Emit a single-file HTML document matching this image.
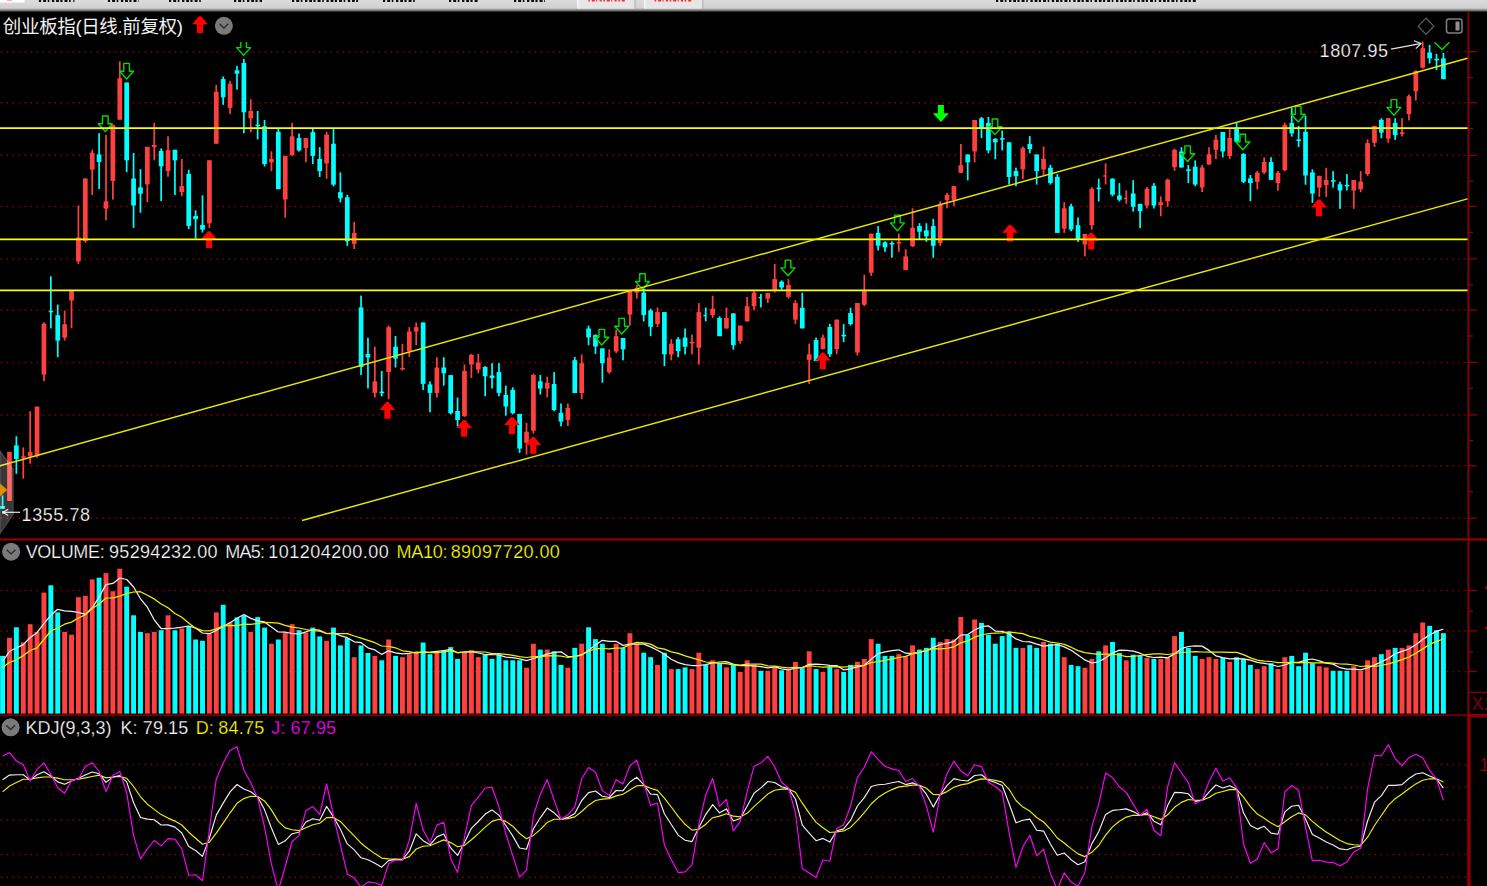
<!DOCTYPE html>
<html><head><meta charset="utf-8"><title>chart</title><style>html,body{margin:0;padding:0;background:#000;overflow:hidden}body{width:1487px;height:886px}</style></head><body>
<svg width="1487" height="886" viewBox="0 0 1487 886" style="display:block;font-family:'Liberation Sans',sans-serif">
<defs><linearGradient id="tb0" x1="0" y1="0" x2="0" y2="1"><stop offset="0" stop-color="#dcdcdc"/><stop offset="1" stop-color="#d0d0d0"/></linearGradient><linearGradient id="tb" x1="0" y1="0" x2="0" y2="1"><stop offset="0" stop-color="#d0d0d0"/><stop offset="0.45" stop-color="#8c8c8c"/><stop offset="1" stop-color="#000"/></linearGradient></defs>
<rect width="1487" height="886" fill="#000"/>
<g stroke="#8a0000" stroke-width="1.5" stroke-dasharray="1.5 4.5" fill="none">
<path d="M0.6 51.7H1466.4"/>
<path d="M0.6 102.8H1466.4"/>
<path d="M0.6 155.3H1466.4"/>
<path d="M0.6 206.4H1466.4"/>
<path d="M0.6 258.9H1466.4"/>
<path d="M0.6 310.1H1466.4"/>
<path d="M0.6 362.4H1466.4"/>
<path d="M0.6 414.9H1466.4"/>
<path d="M0.6 465.8H1466.4"/>
<path d="M0.6 518.2H1466.4"/>
<path d="M0.6 590.5H1466.4"/>
<path d="M0.6 630.9H1466.4"/>
<path d="M0.6 671.5H1466.4"/>
<path d="M0.6 764.5H1466.4"/>
<path d="M0.6 787.4H1466.4"/>
<path d="M0.6 820.2H1466.4"/>
<path d="M0.6 854.5H1466.4"/>
<path d="M0.6 877.2H1466.4"/>
</g>
<g>
<rect x="1.73" y="495.3" width="1.7" height="13.5" fill="#00ffff"/><rect x="0.23" y="506.0" width="4.7" height="2.8" fill="#00ffff"/>
<rect x="8.62" y="451.9" width="1.7" height="49.0" fill="#ff4040"/><rect x="7.12" y="451.9" width="4.7" height="49.0" fill="#ff4040"/>
<rect x="15.52" y="436.3" width="1.7" height="37.5" fill="#00ffff"/><rect x="14.02" y="445.4" width="4.7" height="13.6" fill="#00ffff"/>
<rect x="22.41" y="447.4" width="1.7" height="31.2" fill="#ff4040"/><rect x="21.11" y="456.2" width="4.6" height="1.6" fill="#ff4040"/>
<rect x="29.31" y="411.2" width="1.7" height="52.5" fill="#ff4040"/><rect x="27.81" y="451.9" width="4.7" height="4.6" fill="#ff4040"/>
<rect x="36.20" y="406.6" width="1.7" height="51.0" fill="#ff4040"/><rect x="34.70" y="406.6" width="4.7" height="49.6" fill="#ff4040"/>
<rect x="43.09" y="322.3" width="1.7" height="58.9" fill="#ff4040"/><rect x="41.59" y="323.7" width="4.7" height="50.8" fill="#ff4040"/>
<rect x="49.99" y="276.3" width="1.7" height="52.1" fill="#00ffff"/><rect x="48.69" y="310.7" width="4.6" height="1.6" fill="#00ffff"/>
<rect x="56.88" y="304.6" width="1.7" height="52.6" fill="#00ffff"/><rect x="55.38" y="315.2" width="4.7" height="25.4" fill="#00ffff"/>
<rect x="63.78" y="310.5" width="1.7" height="30.1" fill="#ff4040"/><rect x="62.28" y="324.2" width="4.7" height="13.4" fill="#ff4040"/>
<rect x="70.67" y="291.0" width="1.7" height="37.4" fill="#ff4040"/><rect x="69.17" y="291.0" width="4.7" height="9.5" fill="#ff4040"/>
<rect x="77.56" y="205.5" width="1.7" height="58.4" fill="#ff4040"/><rect x="76.06" y="237.4" width="4.7" height="24.0" fill="#ff4040"/>
<rect x="84.46" y="178.5" width="1.7" height="64.3" fill="#ff4040"/><rect x="82.96" y="178.5" width="4.7" height="62.6" fill="#ff4040"/>
<rect x="91.35" y="149.8" width="1.7" height="45.2" fill="#ff4040"/><rect x="89.85" y="152.7" width="4.7" height="16.9" fill="#ff4040"/>
<rect x="98.24" y="133.2" width="1.7" height="55.8" fill="#00ffff"/><rect x="96.74" y="154.4" width="4.7" height="7.6" fill="#00ffff"/>
<rect x="105.14" y="134.9" width="1.7" height="85.5" fill="#ff4040"/><rect x="103.64" y="201.3" width="4.7" height="7.3" fill="#ff4040"/>
<rect x="112.03" y="124.8" width="1.7" height="74.8" fill="#ff4040"/><rect x="110.53" y="124.8" width="4.7" height="56.2" fill="#ff4040"/>
<rect x="118.93" y="61.3" width="1.7" height="58.4" fill="#ff4040"/><rect x="117.43" y="78.2" width="4.7" height="41.5" fill="#ff4040"/>
<rect x="125.82" y="82.5" width="1.7" height="89.7" fill="#00ffff"/><rect x="124.32" y="82.5" width="4.7" height="77.8" fill="#00ffff"/>
<rect x="132.71" y="153.0" width="1.7" height="74.9" fill="#00ffff"/><rect x="131.21" y="178.5" width="4.7" height="27.0" fill="#00ffff"/>
<rect x="139.61" y="169.1" width="1.7" height="43.6" fill="#00ffff"/><rect x="138.11" y="187.4" width="4.7" height="6.3" fill="#00ffff"/>
<rect x="146.50" y="146.8" width="1.7" height="55.4" fill="#ff4040"/><rect x="145.00" y="146.8" width="4.7" height="37.6" fill="#ff4040"/>
<rect x="153.40" y="122.8" width="1.7" height="37.5" fill="#ff4040"/><rect x="151.90" y="145.1" width="4.7" height="2.0" fill="#ff4040"/>
<rect x="160.29" y="148.5" width="1.7" height="52.5" fill="#00ffff"/><rect x="158.79" y="151.0" width="4.7" height="15.3" fill="#00ffff"/>
<rect x="167.18" y="136.3" width="1.7" height="40.5" fill="#ff4040"/><rect x="165.68" y="150.2" width="4.7" height="20.8" fill="#ff4040"/>
<rect x="174.08" y="149.8" width="1.7" height="45.2" fill="#00ffff"/><rect x="172.58" y="149.8" width="4.7" height="10.5" fill="#00ffff"/>
<rect x="180.97" y="159.0" width="1.7" height="37.2" fill="#ff4040"/><rect x="179.47" y="186.1" width="4.7" height="5.9" fill="#ff4040"/>
<rect x="187.87" y="169.6" width="1.7" height="59.6" fill="#00ffff"/><rect x="186.37" y="173.9" width="4.7" height="52.0" fill="#00ffff"/>
<rect x="194.76" y="210.3" width="1.7" height="28.3" fill="#00ffff"/><rect x="193.26" y="216.0" width="4.7" height="3.1" fill="#00ffff"/>
<rect x="201.65" y="195.4" width="1.7" height="37.2" fill="#00ffff"/><rect x="200.15" y="225.0" width="4.7" height="4.6" fill="#00ffff"/>
<rect x="208.55" y="160.3" width="1.7" height="67.6" fill="#ff4040"/><rect x="207.05" y="160.3" width="4.7" height="63.0" fill="#ff4040"/>
<rect x="215.44" y="85.0" width="1.7" height="58.7" fill="#ff4040"/><rect x="213.94" y="91.8" width="4.7" height="51.9" fill="#ff4040"/>
<rect x="222.33" y="76.5" width="1.7" height="28.3" fill="#00ffff"/><rect x="220.83" y="79.1" width="4.7" height="18.3" fill="#00ffff"/>
<rect x="229.23" y="80.8" width="1.7" height="33.3" fill="#ff4040"/><rect x="227.73" y="83.8" width="4.7" height="24.1" fill="#ff4040"/>
<rect x="236.12" y="65.9" width="1.7" height="23.7" fill="#00ffff"/><rect x="234.62" y="70.3" width="4.7" height="3.4" fill="#00ffff"/>
<rect x="243.02" y="58.8" width="1.7" height="74.5" fill="#00ffff"/><rect x="241.52" y="63.0" width="4.7" height="49.3" fill="#00ffff"/>
<rect x="249.91" y="99.2" width="1.7" height="33.0" fill="#ff4040"/><rect x="248.41" y="111.0" width="4.7" height="7.3" fill="#ff4040"/>
<rect x="256.80" y="111.0" width="1.7" height="28.4" fill="#00ffff"/><rect x="255.50" y="124.6" width="4.6" height="1.6" fill="#00ffff"/>
<rect x="263.70" y="120.0" width="1.7" height="46.5" fill="#00ffff"/><rect x="262.20" y="126.2" width="4.7" height="37.8" fill="#00ffff"/>
<rect x="270.59" y="151.3" width="1.7" height="19.8" fill="#ff4040"/><rect x="269.09" y="158.9" width="4.7" height="3.4" fill="#ff4040"/>
<rect x="277.49" y="128.8" width="1.7" height="60.4" fill="#00ffff"/><rect x="275.99" y="131.8" width="4.7" height="57.4" fill="#00ffff"/>
<rect x="284.38" y="155.9" width="1.7" height="61.7" fill="#ff4040"/><rect x="282.88" y="155.9" width="4.7" height="43.6" fill="#ff4040"/>
<rect x="291.27" y="122.9" width="1.7" height="33.0" fill="#ff4040"/><rect x="289.77" y="136.4" width="4.7" height="18.6" fill="#ff4040"/>
<rect x="298.17" y="133.5" width="1.7" height="18.1" fill="#00ffff"/><rect x="296.67" y="138.1" width="4.7" height="12.3" fill="#00ffff"/>
<rect x="305.06" y="138.1" width="1.7" height="24.2" fill="#ff4040"/><rect x="303.56" y="138.1" width="4.7" height="10.1" fill="#ff4040"/>
<rect x="311.96" y="128.8" width="1.7" height="35.2" fill="#00ffff"/><rect x="310.46" y="132.2" width="4.7" height="23.7" fill="#00ffff"/>
<rect x="318.85" y="147.1" width="1.7" height="29.9" fill="#00ffff"/><rect x="317.35" y="158.9" width="4.7" height="12.2" fill="#00ffff"/>
<rect x="325.74" y="131.8" width="1.7" height="46.9" fill="#ff4040"/><rect x="324.24" y="134.7" width="4.7" height="28.8" fill="#ff4040"/>
<rect x="332.64" y="128.8" width="1.7" height="57.5" fill="#00ffff"/><rect x="331.14" y="143.7" width="4.7" height="40.9" fill="#00ffff"/>
<rect x="339.53" y="172.4" width="1.7" height="30.0" fill="#00ffff"/><rect x="338.03" y="192.2" width="4.7" height="6.0" fill="#00ffff"/>
<rect x="346.42" y="194.8" width="1.7" height="51.1" fill="#00ffff"/><rect x="344.92" y="197.3" width="4.7" height="44.0" fill="#00ffff"/>
<rect x="353.32" y="221.9" width="1.7" height="27.1" fill="#ff4040"/><rect x="351.82" y="232.9" width="4.7" height="11.0" fill="#ff4040"/>
<rect x="360.21" y="295.6" width="1.7" height="79.5" fill="#00ffff"/><rect x="358.71" y="307.4" width="4.7" height="59.6" fill="#00ffff"/>
<rect x="367.11" y="337.9" width="1.7" height="50.6" fill="#00ffff"/><rect x="365.61" y="354.0" width="4.7" height="3.4" fill="#00ffff"/>
<rect x="374.00" y="346.7" width="1.7" height="50.8" fill="#ff4040"/><rect x="372.50" y="381.4" width="4.7" height="11.5" fill="#ff4040"/>
<rect x="380.89" y="370.9" width="1.7" height="25.4" fill="#00ffff"/><rect x="379.59" y="391.6" width="4.6" height="1.6" fill="#00ffff"/>
<rect x="387.79" y="325.5" width="1.7" height="73.7" fill="#ff4040"/><rect x="386.29" y="327.2" width="4.7" height="44.9" fill="#ff4040"/>
<rect x="394.68" y="336.0" width="1.7" height="31.5" fill="#00ffff"/><rect x="393.18" y="346.7" width="4.7" height="11.9" fill="#00ffff"/>
<rect x="401.58" y="343.8" width="1.7" height="26.6" fill="#ff4040"/><rect x="400.28" y="367.9" width="4.6" height="1.6" fill="#ff4040"/>
<rect x="408.47" y="327.2" width="1.7" height="29.7" fill="#ff4040"/><rect x="406.97" y="331.5" width="4.7" height="19.8" fill="#ff4040"/>
<rect x="415.36" y="322.5" width="1.7" height="22.5" fill="#ff4040"/><rect x="413.86" y="327.2" width="4.7" height="4.3" fill="#ff4040"/>
<rect x="422.26" y="322.5" width="1.7" height="67.4" fill="#00ffff"/><rect x="420.76" y="322.5" width="4.7" height="61.4" fill="#00ffff"/>
<rect x="429.15" y="381.4" width="1.7" height="30.8" fill="#00ffff"/><rect x="427.65" y="384.4" width="4.7" height="8.5" fill="#00ffff"/>
<rect x="436.05" y="357.2" width="1.7" height="40.3" fill="#ff4040"/><rect x="434.55" y="367.5" width="4.7" height="25.4" fill="#ff4040"/>
<rect x="442.94" y="357.2" width="1.7" height="28.4" fill="#00ffff"/><rect x="441.44" y="367.5" width="4.7" height="5.8" fill="#00ffff"/>
<rect x="449.83" y="375.1" width="1.7" height="39.3" fill="#00ffff"/><rect x="448.33" y="375.1" width="4.7" height="38.1" fill="#00ffff"/>
<rect x="456.73" y="397.5" width="1.7" height="28.8" fill="#00ffff"/><rect x="455.23" y="411.0" width="4.7" height="9.0" fill="#00ffff"/>
<rect x="463.62" y="364.5" width="1.7" height="52.5" fill="#ff4040"/><rect x="462.12" y="370.9" width="4.7" height="45.2" fill="#ff4040"/>
<rect x="470.52" y="354.0" width="1.7" height="24.0" fill="#ff4040"/><rect x="469.02" y="354.8" width="4.7" height="9.7" fill="#ff4040"/>
<rect x="477.41" y="354.0" width="1.7" height="19.4" fill="#ff4040"/><rect x="475.91" y="362.4" width="4.7" height="7.2" fill="#ff4040"/>
<rect x="484.30" y="366.2" width="1.7" height="30.1" fill="#00ffff"/><rect x="482.80" y="367.0" width="4.7" height="9.3" fill="#00ffff"/>
<rect x="491.20" y="363.1" width="1.7" height="25.4" fill="#00ffff"/><rect x="489.70" y="375.5" width="4.7" height="2.5" fill="#00ffff"/>
<rect x="498.09" y="363.1" width="1.7" height="33.2" fill="#00ffff"/><rect x="496.59" y="372.1" width="4.7" height="20.8" fill="#00ffff"/>
<rect x="504.98" y="385.6" width="1.7" height="30.0" fill="#00ffff"/><rect x="503.48" y="394.9" width="4.7" height="11.6" fill="#00ffff"/>
<rect x="511.88" y="387.3" width="1.7" height="27.1" fill="#00ffff"/><rect x="510.38" y="389.9" width="4.7" height="23.3" fill="#00ffff"/>
<rect x="518.77" y="413.9" width="1.7" height="39.0" fill="#00ffff"/><rect x="517.27" y="413.9" width="4.7" height="34.7" fill="#00ffff"/>
<rect x="525.67" y="422.9" width="1.7" height="31.7" fill="#ff4040"/><rect x="524.17" y="431.7" width="4.7" height="11.0" fill="#ff4040"/>
<rect x="532.56" y="373.6" width="1.7" height="60.0" fill="#ff4040"/><rect x="531.06" y="375.0" width="4.7" height="55.7" fill="#ff4040"/>
<rect x="539.45" y="375.0" width="1.7" height="19.5" fill="#00ffff"/><rect x="537.95" y="381.3" width="4.7" height="7.3" fill="#00ffff"/>
<rect x="546.35" y="376.7" width="1.7" height="20.8" fill="#ff4040"/><rect x="544.85" y="382.7" width="4.7" height="5.9" fill="#ff4040"/>
<rect x="553.24" y="372.1" width="1.7" height="39.1" fill="#00ffff"/><rect x="551.74" y="384.0" width="4.7" height="26.0" fill="#00ffff"/>
<rect x="560.14" y="403.5" width="1.7" height="22.8" fill="#00ffff"/><rect x="558.64" y="412.8" width="4.7" height="8.8" fill="#00ffff"/>
<rect x="567.03" y="403.5" width="1.7" height="22.5" fill="#ff4040"/><rect x="565.53" y="408.0" width="4.7" height="12.1" fill="#ff4040"/>
<rect x="573.92" y="357.0" width="1.7" height="36.0" fill="#00ffff"/><rect x="572.42" y="360.2" width="4.7" height="32.8" fill="#00ffff"/>
<rect x="580.82" y="354.4" width="1.7" height="44.8" fill="#ff4040"/><rect x="579.32" y="363.2" width="4.7" height="29.8" fill="#ff4040"/>
<rect x="587.71" y="325.6" width="1.7" height="19.6" fill="#00ffff"/><rect x="586.21" y="328.5" width="4.7" height="8.9" fill="#00ffff"/>
<rect x="594.61" y="334.4" width="1.7" height="19.5" fill="#00ffff"/><rect x="593.11" y="335.1" width="4.7" height="11.4" fill="#00ffff"/>
<rect x="601.50" y="348.4" width="1.7" height="34.2" fill="#00ffff"/><rect x="600.00" y="348.4" width="4.7" height="14.8" fill="#00ffff"/>
<rect x="608.39" y="349.4" width="1.7" height="24.4" fill="#ff4040"/><rect x="606.89" y="357.5" width="4.7" height="14.6" fill="#ff4040"/>
<rect x="615.29" y="329.9" width="1.7" height="23.0" fill="#ff4040"/><rect x="613.79" y="336.2" width="4.7" height="15.2" fill="#ff4040"/>
<rect x="622.18" y="338.0" width="1.7" height="22.3" fill="#00ffff"/><rect x="620.68" y="338.0" width="4.7" height="11.4" fill="#00ffff"/>
<rect x="629.07" y="290.9" width="1.7" height="34.7" fill="#ff4040"/><rect x="627.57" y="290.9" width="4.7" height="23.7" fill="#ff4040"/>
<rect x="635.97" y="285.0" width="1.7" height="13.6" fill="#ff4040"/><rect x="634.47" y="288.4" width="4.7" height="4.2" fill="#ff4040"/>
<rect x="642.86" y="288.4" width="1.7" height="33.0" fill="#00ffff"/><rect x="641.36" y="292.6" width="4.7" height="22.5" fill="#00ffff"/>
<rect x="649.76" y="308.7" width="1.7" height="27.5" fill="#00ffff"/><rect x="648.26" y="310.4" width="4.7" height="16.4" fill="#00ffff"/>
<rect x="656.65" y="307.5" width="1.7" height="19.5" fill="#ff4040"/><rect x="655.15" y="312.1" width="4.7" height="11.9" fill="#ff4040"/>
<rect x="663.54" y="312.1" width="1.7" height="54.1" fill="#00ffff"/><rect x="662.04" y="312.1" width="4.7" height="42.1" fill="#00ffff"/>
<rect x="670.44" y="339.2" width="1.7" height="21.1" fill="#ff4040"/><rect x="668.94" y="343.7" width="4.7" height="10.8" fill="#ff4040"/>
<rect x="677.33" y="337.2" width="1.7" height="20.0" fill="#00ffff"/><rect x="675.83" y="339.2" width="4.7" height="11.9" fill="#00ffff"/>
<rect x="684.23" y="328.5" width="1.7" height="25.9" fill="#00ffff"/><rect x="682.73" y="337.6" width="4.7" height="9.2" fill="#00ffff"/>
<rect x="691.12" y="334.5" width="1.7" height="19.9" fill="#ff4040"/><rect x="689.82" y="341.9" width="4.6" height="1.6" fill="#ff4040"/>
<rect x="698.01" y="303.1" width="1.7" height="61.6" fill="#ff4040"/><rect x="696.51" y="312.1" width="4.7" height="35.6" fill="#ff4040"/>
<rect x="704.91" y="307.5" width="1.7" height="13.9" fill="#00ffff"/><rect x="703.46" y="314.8" width="2.3" height="1.5" fill="#00ffff"/>
<rect x="711.80" y="295.7" width="1.7" height="22.3" fill="#ff4040"/><rect x="710.30" y="308.7" width="4.7" height="6.4" fill="#ff4040"/>
<rect x="718.70" y="316.3" width="1.7" height="19.9" fill="#00ffff"/><rect x="717.20" y="318.0" width="4.7" height="18.2" fill="#00ffff"/>
<rect x="725.59" y="307.5" width="1.7" height="21.0" fill="#ff4040"/><rect x="724.09" y="318.0" width="4.7" height="10.5" fill="#ff4040"/>
<rect x="732.48" y="313.4" width="1.7" height="36.3" fill="#00ffff"/><rect x="730.98" y="313.4" width="4.7" height="31.8" fill="#00ffff"/>
<rect x="739.38" y="325.6" width="1.7" height="18.1" fill="#ff4040"/><rect x="737.88" y="325.6" width="4.7" height="15.3" fill="#ff4040"/>
<rect x="746.27" y="296.9" width="1.7" height="24.5" fill="#ff4040"/><rect x="744.77" y="306.2" width="4.7" height="15.2" fill="#ff4040"/>
<rect x="753.17" y="290.9" width="1.7" height="19.5" fill="#ff4040"/><rect x="751.67" y="292.6" width="4.7" height="13.6" fill="#ff4040"/>
<rect x="760.06" y="294.0" width="1.7" height="13.5" fill="#00ffff"/><rect x="758.61" y="296.9" width="2.3" height="1.5" fill="#00ffff"/>
<rect x="766.95" y="293.0" width="1.7" height="10.1" fill="#ff4040"/><rect x="765.45" y="293.0" width="4.7" height="5.6" fill="#ff4040"/>
<rect x="773.85" y="263.9" width="1.7" height="28.7" fill="#ff4040"/><rect x="772.35" y="279.1" width="4.7" height="11.0" fill="#ff4040"/>
<rect x="780.74" y="280.4" width="1.7" height="9.2" fill="#00ffff"/><rect x="779.24" y="281.6" width="4.7" height="5.9" fill="#00ffff"/>
<rect x="787.63" y="279.1" width="1.7" height="19.5" fill="#ff4040"/><rect x="786.13" y="285.0" width="4.7" height="11.9" fill="#ff4040"/>
<rect x="794.53" y="300.2" width="1.7" height="23.7" fill="#ff4040"/><rect x="793.03" y="303.1" width="4.7" height="16.6" fill="#ff4040"/>
<rect x="801.42" y="292.7" width="1.7" height="35.7" fill="#00ffff"/><rect x="799.92" y="307.8" width="4.7" height="20.6" fill="#00ffff"/>
<rect x="808.32" y="343.6" width="1.7" height="40.3" fill="#ff4040"/><rect x="806.82" y="354.3" width="4.7" height="5.6" fill="#ff4040"/>
<rect x="815.21" y="337.6" width="1.7" height="23.5" fill="#00ffff"/><rect x="813.71" y="340.1" width="4.7" height="21.0" fill="#00ffff"/>
<rect x="822.10" y="334.7" width="1.7" height="14.5" fill="#ff4040"/><rect x="820.60" y="337.6" width="4.7" height="11.6" fill="#ff4040"/>
<rect x="829.00" y="324.0" width="1.7" height="32.9" fill="#00ffff"/><rect x="827.50" y="327.0" width="4.7" height="27.3" fill="#00ffff"/>
<rect x="835.89" y="319.6" width="1.7" height="34.7" fill="#ff4040"/><rect x="834.39" y="319.6" width="4.7" height="29.6" fill="#ff4040"/>
<rect x="842.79" y="324.1" width="1.7" height="18.0" fill="#00ffff"/><rect x="841.49" y="334.8" width="4.6" height="1.6" fill="#00ffff"/>
<rect x="849.68" y="307.7" width="1.7" height="17.8" fill="#00ffff"/><rect x="848.18" y="313.1" width="4.7" height="11.0" fill="#00ffff"/>
<rect x="856.57" y="303.0" width="1.7" height="52.6" fill="#ff4040"/><rect x="855.07" y="303.0" width="4.7" height="49.6" fill="#ff4040"/>
<rect x="863.47" y="274.7" width="1.7" height="31.3" fill="#ff4040"/><rect x="861.97" y="290.4" width="4.7" height="14.4" fill="#ff4040"/>
<rect x="870.36" y="233.7" width="1.7" height="42.2" fill="#ff4040"/><rect x="868.86" y="233.7" width="4.7" height="39.0" fill="#ff4040"/>
<rect x="877.26" y="226.1" width="1.7" height="24.4" fill="#00ffff"/><rect x="875.76" y="232.9" width="4.7" height="12.8" fill="#00ffff"/>
<rect x="884.15" y="241.3" width="1.7" height="10.5" fill="#00ffff"/><rect x="882.65" y="242.3" width="4.7" height="5.1" fill="#00ffff"/>
<rect x="891.04" y="241.3" width="1.7" height="16.5" fill="#00ffff"/><rect x="889.74" y="242.9" width="4.6" height="1.6" fill="#00ffff"/>
<rect x="897.94" y="233.7" width="1.7" height="18.1" fill="#ff4040"/><rect x="896.64" y="241.9" width="4.6" height="1.6" fill="#ff4040"/>
<rect x="904.83" y="249.2" width="1.7" height="20.9" fill="#ff4040"/><rect x="903.33" y="256.4" width="4.7" height="13.7" fill="#ff4040"/>
<rect x="911.72" y="208.3" width="1.7" height="38.7" fill="#ff4040"/><rect x="910.22" y="227.8" width="4.7" height="18.4" fill="#ff4040"/>
<rect x="918.62" y="223.2" width="1.7" height="15.9" fill="#00ffff"/><rect x="917.12" y="226.1" width="4.7" height="5.6" fill="#00ffff"/>
<rect x="925.51" y="223.2" width="1.7" height="18.6" fill="#00ffff"/><rect x="924.01" y="230.3" width="4.7" height="6.0" fill="#00ffff"/>
<rect x="932.41" y="218.8" width="1.7" height="39.0" fill="#00ffff"/><rect x="930.91" y="226.1" width="4.7" height="19.7" fill="#00ffff"/>
<rect x="939.30" y="201.2" width="1.7" height="44.7" fill="#ff4040"/><rect x="937.80" y="204.6" width="4.7" height="38.6" fill="#ff4040"/>
<rect x="946.19" y="192.8" width="1.7" height="15.5" fill="#ff4040"/><rect x="944.69" y="194.8" width="4.7" height="5.4" fill="#ff4040"/>
<rect x="953.09" y="186.0" width="1.7" height="20.3" fill="#ff4040"/><rect x="951.59" y="186.0" width="4.7" height="13.9" fill="#ff4040"/>
<rect x="959.98" y="144.0" width="1.7" height="28.8" fill="#ff4040"/><rect x="958.48" y="165.2" width="4.7" height="7.6" fill="#ff4040"/>
<rect x="966.88" y="154.5" width="1.7" height="25.9" fill="#00ffff"/><rect x="965.38" y="154.5" width="4.7" height="7.8" fill="#00ffff"/>
<rect x="973.77" y="120.0" width="1.7" height="42.3" fill="#ff4040"/><rect x="972.27" y="120.0" width="4.7" height="31.3" fill="#ff4040"/>
<rect x="980.66" y="116.9" width="1.7" height="21.2" fill="#00ffff"/><rect x="979.16" y="118.3" width="4.7" height="9.6" fill="#00ffff"/>
<rect x="987.56" y="116.9" width="1.7" height="36.4" fill="#00ffff"/><rect x="986.06" y="122.9" width="4.7" height="27.5" fill="#00ffff"/>
<rect x="994.45" y="138.1" width="1.7" height="21.1" fill="#00ffff"/><rect x="992.95" y="138.9" width="4.7" height="3.4" fill="#00ffff"/>
<rect x="1001.35" y="130.5" width="1.7" height="19.9" fill="#00ffff"/><rect x="1000.05" y="138.1" width="4.6" height="1.6" fill="#00ffff"/>
<rect x="1008.24" y="142.3" width="1.7" height="42.3" fill="#00ffff"/><rect x="1006.74" y="142.3" width="4.7" height="34.7" fill="#00ffff"/>
<rect x="1015.13" y="167.7" width="1.7" height="18.6" fill="#00ffff"/><rect x="1013.63" y="171.1" width="4.7" height="5.1" fill="#00ffff"/>
<rect x="1022.03" y="146.5" width="1.7" height="32.7" fill="#ff4040"/><rect x="1020.53" y="148.2" width="4.7" height="21.2" fill="#ff4040"/>
<rect x="1028.92" y="136.1" width="1.7" height="17.2" fill="#00ffff"/><rect x="1027.42" y="144.0" width="4.7" height="5.1" fill="#00ffff"/>
<rect x="1035.82" y="154.5" width="1.7" height="30.1" fill="#00ffff"/><rect x="1034.32" y="154.5" width="4.7" height="16.6" fill="#00ffff"/>
<rect x="1042.71" y="146.5" width="1.7" height="28.8" fill="#ff4040"/><rect x="1041.21" y="158.9" width="4.7" height="10.5" fill="#ff4040"/>
<rect x="1049.60" y="164.8" width="1.7" height="19.8" fill="#00ffff"/><rect x="1048.10" y="167.7" width="4.7" height="15.2" fill="#00ffff"/>
<rect x="1056.50" y="174.1" width="1.7" height="58.8" fill="#00ffff"/><rect x="1055.00" y="177.0" width="4.7" height="55.9" fill="#00ffff"/>
<rect x="1063.39" y="202.1" width="1.7" height="30.8" fill="#ff4040"/><rect x="1061.89" y="208.3" width="4.7" height="20.3" fill="#ff4040"/>
<rect x="1070.28" y="203.8" width="1.7" height="27.4" fill="#00ffff"/><rect x="1068.78" y="206.3" width="4.7" height="23.2" fill="#00ffff"/>
<rect x="1077.18" y="217.5" width="1.7" height="24.4" fill="#00ffff"/><rect x="1075.68" y="225.2" width="4.7" height="14.3" fill="#00ffff"/>
<rect x="1084.07" y="233.9" width="1.7" height="22.5" fill="#ff4040"/><rect x="1082.57" y="233.9" width="4.7" height="10.7" fill="#ff4040"/>
<rect x="1090.97" y="187.3" width="1.7" height="42.3" fill="#ff4040"/><rect x="1089.47" y="188.8" width="4.7" height="36.4" fill="#ff4040"/>
<rect x="1097.86" y="178.6" width="1.7" height="22.8" fill="#00ffff"/><rect x="1096.56" y="187.6" width="4.6" height="1.6" fill="#00ffff"/>
<rect x="1104.75" y="163.3" width="1.7" height="21.2" fill="#ff4040"/><rect x="1103.30" y="175.2" width="2.3" height="1.5" fill="#ff4040"/>
<rect x="1111.65" y="178.6" width="1.7" height="17.7" fill="#00ffff"/><rect x="1110.15" y="178.6" width="4.7" height="16.0" fill="#00ffff"/>
<rect x="1118.54" y="183.1" width="1.7" height="18.3" fill="#00ffff"/><rect x="1117.04" y="195.5" width="4.7" height="4.2" fill="#00ffff"/>
<rect x="1125.44" y="190.4" width="1.7" height="13.5" fill="#ff4040"/><rect x="1123.99" y="197.7" width="2.3" height="1.5" fill="#ff4040"/>
<rect x="1132.33" y="180.2" width="1.7" height="31.4" fill="#00ffff"/><rect x="1130.83" y="193.4" width="4.7" height="13.4" fill="#00ffff"/>
<rect x="1139.22" y="203.9" width="1.7" height="24.2" fill="#00ffff"/><rect x="1137.72" y="203.9" width="4.7" height="7.3" fill="#00ffff"/>
<rect x="1146.12" y="187.0" width="1.7" height="21.5" fill="#ff4040"/><rect x="1144.62" y="188.7" width="4.7" height="16.9" fill="#ff4040"/>
<rect x="1153.01" y="183.1" width="1.7" height="25.4" fill="#00ffff"/><rect x="1151.51" y="185.8" width="4.7" height="19.8" fill="#00ffff"/>
<rect x="1159.91" y="196.3" width="1.7" height="20.0" fill="#ff4040"/><rect x="1158.41" y="202.2" width="4.7" height="2.9" fill="#ff4040"/>
<rect x="1166.80" y="178.6" width="1.7" height="28.2" fill="#ff4040"/><rect x="1165.30" y="179.7" width="4.7" height="21.7" fill="#ff4040"/>
<rect x="1173.69" y="148.6" width="1.7" height="22.3" fill="#ff4040"/><rect x="1172.19" y="149.8" width="4.7" height="17.4" fill="#ff4040"/>
<rect x="1180.59" y="147.2" width="1.7" height="20.3" fill="#00ffff"/><rect x="1179.09" y="151.5" width="4.7" height="16.0" fill="#00ffff"/>
<rect x="1187.48" y="165.0" width="1.7" height="18.1" fill="#00ffff"/><rect x="1186.18" y="169.3" width="4.6" height="1.6" fill="#00ffff"/>
<rect x="1194.37" y="160.4" width="1.7" height="25.8" fill="#00ffff"/><rect x="1192.87" y="166.7" width="4.7" height="17.8" fill="#00ffff"/>
<rect x="1201.27" y="165.0" width="1.7" height="27.1" fill="#ff4040"/><rect x="1199.77" y="167.5" width="4.7" height="20.0" fill="#ff4040"/>
<rect x="1208.16" y="147.2" width="1.7" height="17.3" fill="#ff4040"/><rect x="1206.66" y="154.3" width="4.7" height="10.2" fill="#ff4040"/>
<rect x="1215.06" y="135.0" width="1.7" height="24.1" fill="#ff4040"/><rect x="1213.56" y="139.6" width="4.7" height="10.2" fill="#ff4040"/>
<rect x="1221.95" y="132.0" width="1.7" height="25.4" fill="#00ffff"/><rect x="1220.45" y="132.0" width="4.7" height="19.5" fill="#00ffff"/>
<rect x="1228.84" y="128.6" width="1.7" height="30.5" fill="#ff4040"/><rect x="1227.34" y="137.9" width="4.7" height="18.1" fill="#ff4040"/>
<rect x="1235.74" y="122.7" width="1.7" height="19.1" fill="#00ffff"/><rect x="1234.24" y="127.8" width="4.7" height="14.0" fill="#00ffff"/>
<rect x="1242.63" y="153.2" width="1.7" height="29.9" fill="#00ffff"/><rect x="1241.13" y="153.9" width="4.7" height="27.9" fill="#00ffff"/>
<rect x="1249.53" y="175.0" width="1.7" height="26.3" fill="#00ffff"/><rect x="1248.03" y="178.4" width="4.7" height="4.6" fill="#00ffff"/>
<rect x="1256.42" y="171.0" width="1.7" height="18.3" fill="#ff4040"/><rect x="1254.92" y="172.7" width="4.7" height="9.1" fill="#ff4040"/>
<rect x="1263.31" y="157.3" width="1.7" height="16.7" fill="#ff4040"/><rect x="1261.81" y="162.0" width="4.7" height="10.5" fill="#ff4040"/>
<rect x="1270.21" y="157.3" width="1.7" height="22.6" fill="#00ffff"/><rect x="1268.71" y="162.0" width="4.7" height="17.9" fill="#00ffff"/>
<rect x="1277.10" y="171.0" width="1.7" height="19.7" fill="#ff4040"/><rect x="1275.60" y="172.8" width="4.7" height="10.2" fill="#ff4040"/>
<rect x="1284.00" y="122.7" width="1.7" height="48.6" fill="#ff4040"/><rect x="1282.50" y="124.7" width="4.7" height="45.3" fill="#ff4040"/>
<rect x="1290.89" y="108.1" width="1.7" height="28.5" fill="#00ffff"/><rect x="1289.39" y="123.0" width="4.7" height="10.4" fill="#00ffff"/>
<rect x="1297.78" y="126.0" width="1.7" height="21.1" fill="#00ffff"/><rect x="1296.48" y="139.4" width="4.6" height="1.6" fill="#00ffff"/>
<rect x="1304.68" y="115.8" width="1.7" height="68.9" fill="#00ffff"/><rect x="1303.18" y="131.9" width="4.7" height="43.6" fill="#00ffff"/>
<rect x="1311.57" y="169.4" width="1.7" height="33.5" fill="#00ffff"/><rect x="1310.07" y="172.4" width="4.7" height="21.1" fill="#00ffff"/>
<rect x="1318.46" y="175.8" width="1.7" height="21.1" fill="#ff4040"/><rect x="1316.96" y="175.8" width="4.7" height="11.8" fill="#ff4040"/>
<rect x="1325.36" y="167.8" width="1.7" height="29.1" fill="#ff4040"/><rect x="1323.86" y="180.0" width="4.7" height="5.1" fill="#ff4040"/>
<rect x="1332.25" y="171.2" width="1.7" height="16.4" fill="#00ffff"/><rect x="1330.95" y="180.1" width="4.6" height="1.6" fill="#00ffff"/>
<rect x="1339.15" y="181.7" width="1.7" height="27.1" fill="#00ffff"/><rect x="1337.65" y="184.3" width="4.7" height="6.2" fill="#00ffff"/>
<rect x="1346.04" y="174.1" width="1.7" height="16.4" fill="#00ffff"/><rect x="1344.74" y="184.8" width="4.6" height="1.6" fill="#00ffff"/>
<rect x="1352.93" y="180.0" width="1.7" height="28.8" fill="#ff4040"/><rect x="1351.43" y="180.0" width="4.7" height="10.5" fill="#ff4040"/>
<rect x="1359.83" y="171.2" width="1.7" height="21.0" fill="#ff4040"/><rect x="1358.33" y="181.7" width="4.7" height="7.6" fill="#ff4040"/>
<rect x="1366.72" y="139.4" width="1.7" height="36.4" fill="#ff4040"/><rect x="1365.22" y="143.1" width="4.7" height="31.0" fill="#ff4040"/>
<rect x="1373.62" y="125.9" width="1.7" height="21.1" fill="#ff4040"/><rect x="1372.12" y="125.9" width="4.7" height="16.9" fill="#ff4040"/>
<rect x="1380.51" y="118.2" width="1.7" height="20.0" fill="#00ffff"/><rect x="1379.01" y="119.9" width="4.7" height="12.7" fill="#00ffff"/>
<rect x="1387.40" y="118.2" width="1.7" height="24.6" fill="#ff4040"/><rect x="1385.90" y="118.2" width="4.7" height="20.4" fill="#ff4040"/>
<rect x="1394.30" y="118.2" width="1.7" height="21.7" fill="#00ffff"/><rect x="1392.80" y="122.8" width="4.7" height="12.4" fill="#00ffff"/>
<rect x="1401.19" y="118.2" width="1.7" height="18.3" fill="#ff4040"/><rect x="1399.89" y="132.3" width="4.6" height="1.6" fill="#ff4040"/>
<rect x="1408.09" y="94.5" width="1.7" height="25.9" fill="#ff4040"/><rect x="1406.59" y="96.2" width="4.7" height="17.8" fill="#ff4040"/>
<rect x="1414.98" y="70.2" width="1.7" height="30.4" fill="#ff4040"/><rect x="1413.48" y="71.0" width="4.7" height="20.3" fill="#ff4040"/>
<rect x="1421.87" y="41.5" width="1.7" height="27.1" fill="#ff4040"/><rect x="1420.37" y="48.2" width="4.7" height="19.5" fill="#ff4040"/>
<rect x="1428.77" y="44.9" width="1.7" height="18.6" fill="#00ffff"/><rect x="1427.27" y="52.5" width="4.7" height="5.9" fill="#00ffff"/>
<rect x="1435.66" y="53.8" width="1.7" height="16.4" fill="#00ffff"/><rect x="1434.36" y="58.8" width="4.6" height="1.6" fill="#00ffff"/>
<rect x="1442.56" y="52.8" width="1.7" height="26.4" fill="#00ffff"/><rect x="1441.06" y="58.4" width="4.7" height="20.8" fill="#00ffff"/>
</g>
<clipPath id="mc"><rect x="0" y="41.9" width="1468" height="500"/></clipPath><g clip-path="url(#mc)">
<path d="M207.8 231.3h2.4l6.65 7.9h-4.8v8.8h-6.1v-8.8h-4.8z" fill="#ff0000"/>
<path d="M386.2 402.0h2.4l6.65 7.9h-4.8v8.8h-6.1v-8.8h-4.8z" fill="#ff0000"/>
<path d="M462.9 420.0h2.4l6.65 7.9h-4.8v8.8h-6.1v-8.8h-4.8z" fill="#ff0000"/>
<path d="M510.8 417.2h2.4l6.65 7.9h-4.8v8.8h-6.1v-8.8h-4.8z" fill="#ff0000"/>
<path d="M532.0 437.0h2.4l6.65 7.9h-4.8v8.8h-6.1v-8.8h-4.8z" fill="#ff0000"/>
<path d="M821.6 352.6h2.4l6.65 7.9h-4.8v8.8h-6.1v-8.8h-4.8z" fill="#ff0000"/>
<path d="M1008.8 224.9h2.4l6.65 7.9h-4.8v8.8h-6.1v-8.8h-4.8z" fill="#ff0000"/>
<path d="M1090.0 232.8h2.4l6.65 7.9h-4.8v8.8h-6.1v-8.8h-4.8z" fill="#ff0000"/>
<path d="M1317.8 199.6h2.4l6.65 7.9h-4.8v8.8h-6.1v-8.8h-4.8z" fill="#ff0000"/>
<path d="M102.5 116.0h5.6v7.8h4.2l-7 7.8l-7 -7.8h4.2z" fill="none" stroke="#00dc00" stroke-width="1.4" stroke-linejoin="round"/>
<path d="M123.8 63.4h5.6v7.8h4.2l-7 7.8l-7 -7.8h4.2z" fill="none" stroke="#00dc00" stroke-width="1.4" stroke-linejoin="round"/>
<path d="M240.8 39.8h5.6v7.8h4.2l-7 7.8l-7 -7.8h4.2z" fill="none" stroke="#00dc00" stroke-width="1.4" stroke-linejoin="round"/>
<path d="M599.0 329.4h5.6v7.8h4.2l-7 7.8l-7 -7.8h4.2z" fill="none" stroke="#00dc00" stroke-width="1.4" stroke-linejoin="round"/>
<path d="M618.9 318.4h5.6v7.8h4.2l-7 7.8l-7 -7.8h4.2z" fill="none" stroke="#00dc00" stroke-width="1.4" stroke-linejoin="round"/>
<path d="M639.7 273.7h5.6v7.8h4.2l-7 7.8l-7 -7.8h4.2z" fill="none" stroke="#00dc00" stroke-width="1.4" stroke-linejoin="round"/>
<path d="M785.2 260.1h5.6v7.8h4.2l-7 7.8l-7 -7.8h4.2z" fill="none" stroke="#00dc00" stroke-width="1.4" stroke-linejoin="round"/>
<path d="M894.6 215.1h5.6v7.8h4.2l-7 7.8l-7 -7.8h4.2z" fill="none" stroke="#00dc00" stroke-width="1.4" stroke-linejoin="round"/>
<path d="M992.2 119.0h5.6v7.8h4.2l-7 7.8l-7 -7.8h4.2z" fill="none" stroke="#00dc00" stroke-width="1.4" stroke-linejoin="round"/>
<path d="M1184.8 145.9h5.6v7.8h4.2l-7 7.8l-7 -7.8h4.2z" fill="none" stroke="#00dc00" stroke-width="1.4" stroke-linejoin="round"/>
<path d="M1240.0 134.2h5.6v7.8h4.2l-7 7.8l-7 -7.8h4.2z" fill="none" stroke="#00dc00" stroke-width="1.4" stroke-linejoin="round"/>
<path d="M1295.4 106.4h5.6v7.8h4.2l-7 7.8l-7 -7.8h4.2z" fill="none" stroke="#00dc00" stroke-width="1.4" stroke-linejoin="round"/>
<path d="M1391.1 99.6h5.6v7.8h4.2l-7 7.8l-7 -7.8h4.2z" fill="none" stroke="#00dc00" stroke-width="1.4" stroke-linejoin="round"/>
<path d="M937.9 105.1h6v8.2h5l-8 8.8l-8 -8.8h5z" fill="#00ff00"/>
<path d="M1434.4 42.3L1442.1 49.6L1449.4 42.3" fill="none" stroke="#00dc00" stroke-width="1.4"/>
</g>
<g stroke="#ffff00" stroke-width="1.7" fill="none">
<path d="M0 128.1H1468.4"/>
<path d="M0 239.4H1468.4"/>
<path d="M0 290.4H1468.4"/>
</g>
<g stroke="#e8e800" stroke-width="1.45" fill="none">
<path d="M0 465.7L1468.4 58.0"/>
<path d="M302 520.5L1468.4 198.6"/>
</g>
<g>
<rect x="0.13" y="655.9" width="4.9" height="57.7" fill="#00ffff"/>
<rect x="7.02" y="637.8" width="4.9" height="75.8" fill="#ff4040"/>
<rect x="13.92" y="627.3" width="4.9" height="86.3" fill="#00ffff"/>
<rect x="20.81" y="642.5" width="4.9" height="71.1" fill="#ff4040"/>
<rect x="27.71" y="624.2" width="4.9" height="89.4" fill="#ff4040"/>
<rect x="34.60" y="631.9" width="4.9" height="81.7" fill="#ff4040"/>
<rect x="41.49" y="592.6" width="4.9" height="121.0" fill="#ff4040"/>
<rect x="48.39" y="585.3" width="4.9" height="128.3" fill="#00ffff"/>
<rect x="55.28" y="612.4" width="4.9" height="101.2" fill="#00ffff"/>
<rect x="62.18" y="631.9" width="4.9" height="81.7" fill="#ff4040"/>
<rect x="69.07" y="634.7" width="4.9" height="78.9" fill="#ff4040"/>
<rect x="75.96" y="597.2" width="4.9" height="116.4" fill="#ff4040"/>
<rect x="82.86" y="595.8" width="4.9" height="117.8" fill="#ff4040"/>
<rect x="89.75" y="579.4" width="4.9" height="134.2" fill="#ff4040"/>
<rect x="96.64" y="577.7" width="4.9" height="135.9" fill="#00ffff"/>
<rect x="103.54" y="573.1" width="4.9" height="140.5" fill="#ff4040"/>
<rect x="110.43" y="591.2" width="4.9" height="122.4" fill="#ff4040"/>
<rect x="117.33" y="568.7" width="4.9" height="144.9" fill="#ff4040"/>
<rect x="124.22" y="586.7" width="4.9" height="126.9" fill="#00ffff"/>
<rect x="131.11" y="615.3" width="4.9" height="98.3" fill="#00ffff"/>
<rect x="138.01" y="631.9" width="4.9" height="81.7" fill="#00ffff"/>
<rect x="144.90" y="633.2" width="4.9" height="80.4" fill="#ff4040"/>
<rect x="151.80" y="631.9" width="4.9" height="81.7" fill="#ff4040"/>
<rect x="158.69" y="630.2" width="4.9" height="83.4" fill="#00ffff"/>
<rect x="165.58" y="615.3" width="4.9" height="98.3" fill="#ff4040"/>
<rect x="172.48" y="630.2" width="4.9" height="83.4" fill="#00ffff"/>
<rect x="179.37" y="628.5" width="4.9" height="85.1" fill="#ff4040"/>
<rect x="186.27" y="625.9" width="4.9" height="87.7" fill="#00ffff"/>
<rect x="193.16" y="639.5" width="4.9" height="74.1" fill="#00ffff"/>
<rect x="200.05" y="640.8" width="4.9" height="72.8" fill="#00ffff"/>
<rect x="206.95" y="633.6" width="4.9" height="80.0" fill="#ff4040"/>
<rect x="213.84" y="612.4" width="4.9" height="101.2" fill="#ff4040"/>
<rect x="220.73" y="604.8" width="4.9" height="108.8" fill="#00ffff"/>
<rect x="227.63" y="622.5" width="4.9" height="91.1" fill="#ff4040"/>
<rect x="234.52" y="617.5" width="4.9" height="96.1" fill="#00ffff"/>
<rect x="241.42" y="615.3" width="4.9" height="98.3" fill="#00ffff"/>
<rect x="248.31" y="631.9" width="4.9" height="81.7" fill="#ff4040"/>
<rect x="255.20" y="617.1" width="4.9" height="96.5" fill="#00ffff"/>
<rect x="262.10" y="627.6" width="4.9" height="86.0" fill="#00ffff"/>
<rect x="268.99" y="643.7" width="4.9" height="69.9" fill="#ff4040"/>
<rect x="275.89" y="639.5" width="4.9" height="74.1" fill="#00ffff"/>
<rect x="282.78" y="632.7" width="4.9" height="80.9" fill="#ff4040"/>
<rect x="289.67" y="624.2" width="4.9" height="89.4" fill="#ff4040"/>
<rect x="296.57" y="630.2" width="4.9" height="83.4" fill="#00ffff"/>
<rect x="303.46" y="632.7" width="4.9" height="80.9" fill="#ff4040"/>
<rect x="310.36" y="627.6" width="4.9" height="86.0" fill="#00ffff"/>
<rect x="317.25" y="636.4" width="4.9" height="77.2" fill="#00ffff"/>
<rect x="324.14" y="640.8" width="4.9" height="72.8" fill="#ff4040"/>
<rect x="331.04" y="627.6" width="4.9" height="86.0" fill="#00ffff"/>
<rect x="337.93" y="645.4" width="4.9" height="68.2" fill="#00ffff"/>
<rect x="344.82" y="638.1" width="4.9" height="75.5" fill="#00ffff"/>
<rect x="351.72" y="657.2" width="4.9" height="56.4" fill="#ff4040"/>
<rect x="358.61" y="645.4" width="4.9" height="68.2" fill="#00ffff"/>
<rect x="365.51" y="653.0" width="4.9" height="60.6" fill="#00ffff"/>
<rect x="372.40" y="655.9" width="4.9" height="57.7" fill="#ff4040"/>
<rect x="379.29" y="660.3" width="4.9" height="53.3" fill="#00ffff"/>
<rect x="386.19" y="639.5" width="4.9" height="74.1" fill="#ff4040"/>
<rect x="393.08" y="655.9" width="4.9" height="57.7" fill="#00ffff"/>
<rect x="399.98" y="657.2" width="4.9" height="56.4" fill="#ff4040"/>
<rect x="406.87" y="654.2" width="4.9" height="59.4" fill="#ff4040"/>
<rect x="413.76" y="653.0" width="4.9" height="60.6" fill="#ff4040"/>
<rect x="420.66" y="642.5" width="4.9" height="71.1" fill="#00ffff"/>
<rect x="427.55" y="654.2" width="4.9" height="59.4" fill="#00ffff"/>
<rect x="434.45" y="653.0" width="4.9" height="60.6" fill="#ff4040"/>
<rect x="441.34" y="650.1" width="4.9" height="63.5" fill="#00ffff"/>
<rect x="448.23" y="647.1" width="4.9" height="66.5" fill="#00ffff"/>
<rect x="455.13" y="658.9" width="4.9" height="54.7" fill="#00ffff"/>
<rect x="462.02" y="651.7" width="4.9" height="61.9" fill="#ff4040"/>
<rect x="468.92" y="650.1" width="4.9" height="63.5" fill="#ff4040"/>
<rect x="475.81" y="657.2" width="4.9" height="56.4" fill="#ff4040"/>
<rect x="482.70" y="654.7" width="4.9" height="58.9" fill="#00ffff"/>
<rect x="489.60" y="658.9" width="4.9" height="54.7" fill="#00ffff"/>
<rect x="496.49" y="654.2" width="4.9" height="59.4" fill="#00ffff"/>
<rect x="503.38" y="660.3" width="4.9" height="53.3" fill="#00ffff"/>
<rect x="510.28" y="660.3" width="4.9" height="53.3" fill="#00ffff"/>
<rect x="517.17" y="660.3" width="4.9" height="53.3" fill="#00ffff"/>
<rect x="524.07" y="667.7" width="4.9" height="45.9" fill="#ff4040"/>
<rect x="530.96" y="643.7" width="4.9" height="69.9" fill="#ff4040"/>
<rect x="537.85" y="649.6" width="4.9" height="64.0" fill="#00ffff"/>
<rect x="544.75" y="649.6" width="4.9" height="64.0" fill="#ff4040"/>
<rect x="551.64" y="651.3" width="4.9" height="62.3" fill="#00ffff"/>
<rect x="558.54" y="664.9" width="4.9" height="48.7" fill="#00ffff"/>
<rect x="565.43" y="667.7" width="4.9" height="45.9" fill="#ff4040"/>
<rect x="572.32" y="647.9" width="4.9" height="65.7" fill="#00ffff"/>
<rect x="579.22" y="643.7" width="4.9" height="69.9" fill="#ff4040"/>
<rect x="586.11" y="627.3" width="4.9" height="86.3" fill="#00ffff"/>
<rect x="593.01" y="639.1" width="4.9" height="74.5" fill="#00ffff"/>
<rect x="599.90" y="643.7" width="4.9" height="69.9" fill="#00ffff"/>
<rect x="606.79" y="652.7" width="4.9" height="60.9" fill="#ff4040"/>
<rect x="613.69" y="643.7" width="4.9" height="69.9" fill="#ff4040"/>
<rect x="620.58" y="647.9" width="4.9" height="65.7" fill="#00ffff"/>
<rect x="627.47" y="633.2" width="4.9" height="80.4" fill="#ff4040"/>
<rect x="634.37" y="643.7" width="4.9" height="69.9" fill="#ff4040"/>
<rect x="641.26" y="652.7" width="4.9" height="60.9" fill="#00ffff"/>
<rect x="648.16" y="657.2" width="4.9" height="56.4" fill="#00ffff"/>
<rect x="655.05" y="664.9" width="4.9" height="48.7" fill="#ff4040"/>
<rect x="661.94" y="652.7" width="4.9" height="60.9" fill="#00ffff"/>
<rect x="668.84" y="669.1" width="4.9" height="44.5" fill="#ff4040"/>
<rect x="675.73" y="669.1" width="4.9" height="44.5" fill="#00ffff"/>
<rect x="682.63" y="667.4" width="4.9" height="46.2" fill="#00ffff"/>
<rect x="689.52" y="669.1" width="4.9" height="44.5" fill="#ff4040"/>
<rect x="696.41" y="652.7" width="4.9" height="60.9" fill="#ff4040"/>
<rect x="703.31" y="664.9" width="4.9" height="48.7" fill="#00ffff"/>
<rect x="710.20" y="660.3" width="4.9" height="53.3" fill="#ff4040"/>
<rect x="717.10" y="663.2" width="4.9" height="50.4" fill="#00ffff"/>
<rect x="723.99" y="667.4" width="4.9" height="46.2" fill="#ff4040"/>
<rect x="730.88" y="664.9" width="4.9" height="48.7" fill="#00ffff"/>
<rect x="737.78" y="672.0" width="4.9" height="41.6" fill="#ff4040"/>
<rect x="744.67" y="660.3" width="4.9" height="53.3" fill="#ff4040"/>
<rect x="751.57" y="664.9" width="4.9" height="48.7" fill="#ff4040"/>
<rect x="758.46" y="670.8" width="4.9" height="42.8" fill="#00ffff"/>
<rect x="765.35" y="670.8" width="4.9" height="42.8" fill="#ff4040"/>
<rect x="772.25" y="667.4" width="4.9" height="46.2" fill="#ff4040"/>
<rect x="779.14" y="670.3" width="4.9" height="43.3" fill="#00ffff"/>
<rect x="786.03" y="670.3" width="4.9" height="43.3" fill="#ff4040"/>
<rect x="792.93" y="661.8" width="4.9" height="51.8" fill="#ff4040"/>
<rect x="799.82" y="668.2" width="4.9" height="45.4" fill="#00ffff"/>
<rect x="806.72" y="651.3" width="4.9" height="62.3" fill="#ff4040"/>
<rect x="813.61" y="669.1" width="4.9" height="44.5" fill="#00ffff"/>
<rect x="820.50" y="672.0" width="4.9" height="41.6" fill="#ff4040"/>
<rect x="827.40" y="666.6" width="4.9" height="47.0" fill="#00ffff"/>
<rect x="834.29" y="669.1" width="4.9" height="44.5" fill="#ff4040"/>
<rect x="841.19" y="672.0" width="4.9" height="41.6" fill="#00ffff"/>
<rect x="848.08" y="664.9" width="4.9" height="48.7" fill="#00ffff"/>
<rect x="854.97" y="661.8" width="4.9" height="51.8" fill="#ff4040"/>
<rect x="861.87" y="658.9" width="4.9" height="54.7" fill="#ff4040"/>
<rect x="868.76" y="639.1" width="4.9" height="74.5" fill="#ff4040"/>
<rect x="875.66" y="643.7" width="4.9" height="69.9" fill="#00ffff"/>
<rect x="882.55" y="655.9" width="4.9" height="57.7" fill="#00ffff"/>
<rect x="889.44" y="655.9" width="4.9" height="57.7" fill="#00ffff"/>
<rect x="896.34" y="654.2" width="4.9" height="59.4" fill="#ff4040"/>
<rect x="903.23" y="656.4" width="4.9" height="57.2" fill="#ff4040"/>
<rect x="910.12" y="645.4" width="4.9" height="68.2" fill="#ff4040"/>
<rect x="917.02" y="649.6" width="4.9" height="64.0" fill="#00ffff"/>
<rect x="923.91" y="647.9" width="4.9" height="65.7" fill="#00ffff"/>
<rect x="930.81" y="637.8" width="4.9" height="75.8" fill="#00ffff"/>
<rect x="937.70" y="642.0" width="4.9" height="71.6" fill="#ff4040"/>
<rect x="944.59" y="639.1" width="4.9" height="74.5" fill="#ff4040"/>
<rect x="951.49" y="639.5" width="4.9" height="74.1" fill="#ff4040"/>
<rect x="958.38" y="617.0" width="4.9" height="96.6" fill="#ff4040"/>
<rect x="965.28" y="634.7" width="4.9" height="78.9" fill="#00ffff"/>
<rect x="972.17" y="619.5" width="4.9" height="94.1" fill="#ff4040"/>
<rect x="979.06" y="622.9" width="4.9" height="90.7" fill="#00ffff"/>
<rect x="985.96" y="634.7" width="4.9" height="78.9" fill="#00ffff"/>
<rect x="992.85" y="643.7" width="4.9" height="69.9" fill="#00ffff"/>
<rect x="999.75" y="636.1" width="4.9" height="77.5" fill="#00ffff"/>
<rect x="1006.64" y="631.9" width="4.9" height="81.7" fill="#00ffff"/>
<rect x="1013.53" y="647.9" width="4.9" height="65.7" fill="#00ffff"/>
<rect x="1020.43" y="647.9" width="4.9" height="65.7" fill="#ff4040"/>
<rect x="1027.32" y="645.1" width="4.9" height="68.5" fill="#00ffff"/>
<rect x="1034.21" y="647.9" width="4.9" height="65.7" fill="#00ffff"/>
<rect x="1041.11" y="642.0" width="4.9" height="71.6" fill="#ff4040"/>
<rect x="1048.00" y="643.7" width="4.9" height="69.9" fill="#00ffff"/>
<rect x="1054.90" y="643.7" width="4.9" height="69.9" fill="#00ffff"/>
<rect x="1061.79" y="657.2" width="4.9" height="56.4" fill="#ff4040"/>
<rect x="1068.68" y="664.9" width="4.9" height="48.7" fill="#00ffff"/>
<rect x="1075.58" y="666.2" width="4.9" height="47.4" fill="#00ffff"/>
<rect x="1082.47" y="667.7" width="4.9" height="45.9" fill="#ff4040"/>
<rect x="1089.37" y="658.9" width="4.9" height="54.7" fill="#ff4040"/>
<rect x="1096.26" y="651.3" width="4.9" height="62.3" fill="#00ffff"/>
<rect x="1103.15" y="645.4" width="4.9" height="68.2" fill="#ff4040"/>
<rect x="1110.05" y="642.0" width="4.9" height="71.6" fill="#00ffff"/>
<rect x="1116.94" y="653.0" width="4.9" height="60.6" fill="#00ffff"/>
<rect x="1123.84" y="660.3" width="4.9" height="53.3" fill="#ff4040"/>
<rect x="1130.73" y="654.7" width="4.9" height="58.9" fill="#00ffff"/>
<rect x="1137.62" y="655.9" width="4.9" height="57.7" fill="#00ffff"/>
<rect x="1144.52" y="657.8" width="4.9" height="55.8" fill="#ff4040"/>
<rect x="1151.41" y="658.9" width="4.9" height="54.7" fill="#00ffff"/>
<rect x="1158.31" y="658.9" width="4.9" height="54.7" fill="#ff4040"/>
<rect x="1165.20" y="657.8" width="4.9" height="55.8" fill="#ff4040"/>
<rect x="1172.09" y="636.1" width="4.9" height="77.5" fill="#ff4040"/>
<rect x="1178.99" y="631.9" width="4.9" height="81.7" fill="#00ffff"/>
<rect x="1185.88" y="647.9" width="4.9" height="65.7" fill="#00ffff"/>
<rect x="1192.77" y="655.9" width="4.9" height="57.7" fill="#00ffff"/>
<rect x="1199.67" y="658.9" width="4.9" height="54.7" fill="#ff4040"/>
<rect x="1206.56" y="657.2" width="4.9" height="56.4" fill="#ff4040"/>
<rect x="1213.46" y="658.9" width="4.9" height="54.7" fill="#ff4040"/>
<rect x="1220.35" y="657.8" width="4.9" height="55.8" fill="#00ffff"/>
<rect x="1227.24" y="661.8" width="4.9" height="51.8" fill="#ff4040"/>
<rect x="1234.14" y="657.2" width="4.9" height="56.4" fill="#00ffff"/>
<rect x="1241.03" y="658.9" width="4.9" height="54.7" fill="#00ffff"/>
<rect x="1247.93" y="664.9" width="4.9" height="48.7" fill="#00ffff"/>
<rect x="1254.82" y="669.1" width="4.9" height="44.5" fill="#ff4040"/>
<rect x="1261.71" y="666.2" width="4.9" height="47.4" fill="#ff4040"/>
<rect x="1268.61" y="663.2" width="4.9" height="50.4" fill="#00ffff"/>
<rect x="1275.50" y="669.1" width="4.9" height="44.5" fill="#ff4040"/>
<rect x="1282.40" y="657.2" width="4.9" height="56.4" fill="#ff4040"/>
<rect x="1289.29" y="655.9" width="4.9" height="57.7" fill="#00ffff"/>
<rect x="1296.18" y="666.2" width="4.9" height="47.4" fill="#00ffff"/>
<rect x="1303.08" y="652.7" width="4.9" height="60.9" fill="#00ffff"/>
<rect x="1309.97" y="663.2" width="4.9" height="50.4" fill="#00ffff"/>
<rect x="1316.86" y="666.2" width="4.9" height="47.4" fill="#ff4040"/>
<rect x="1323.76" y="667.4" width="4.9" height="46.2" fill="#ff4040"/>
<rect x="1330.65" y="670.8" width="4.9" height="42.8" fill="#00ffff"/>
<rect x="1337.55" y="670.8" width="4.9" height="42.8" fill="#00ffff"/>
<rect x="1344.44" y="670.8" width="4.9" height="42.8" fill="#00ffff"/>
<rect x="1351.33" y="666.2" width="4.9" height="47.4" fill="#ff4040"/>
<rect x="1358.23" y="670.8" width="4.9" height="42.8" fill="#ff4040"/>
<rect x="1365.12" y="660.3" width="4.9" height="53.3" fill="#ff4040"/>
<rect x="1372.02" y="657.2" width="4.9" height="56.4" fill="#ff4040"/>
<rect x="1378.91" y="654.2" width="4.9" height="59.4" fill="#00ffff"/>
<rect x="1385.80" y="649.6" width="4.9" height="64.0" fill="#ff4040"/>
<rect x="1392.70" y="647.9" width="4.9" height="65.7" fill="#00ffff"/>
<rect x="1399.59" y="647.9" width="4.9" height="65.7" fill="#ff4040"/>
<rect x="1406.49" y="645.4" width="4.9" height="68.2" fill="#ff4040"/>
<rect x="1413.38" y="633.2" width="4.9" height="80.4" fill="#ff4040"/>
<rect x="1420.27" y="622.5" width="4.9" height="91.1" fill="#ff4040"/>
<rect x="1427.17" y="625.9" width="4.9" height="87.7" fill="#00ffff"/>
<rect x="1434.06" y="630.2" width="4.9" height="83.4" fill="#00ffff"/>
<rect x="1440.96" y="633.2" width="4.9" height="80.4" fill="#00ffff"/>
</g>
<path d="M2.6 661.5L9.5 651.3L16.4 648.0L23.3 644.6L30.2 637.5L37.0 632.7L43.9 623.7L50.8 615.3L57.7 609.3L64.6 610.8L71.5 611.4L78.4 612.3L85.3 614.4L92.2 607.8L99.1 597.0L106.0 584.6L112.9 583.4L119.8 578.0L126.7 579.5L133.6 587.0L140.5 598.8L147.4 607.2L154.2 619.8L161.1 628.5L168.0 628.5L174.9 628.2L181.8 627.2L188.7 626.0L195.6 627.9L202.5 633.0L209.4 633.7L216.3 630.4L223.2 626.2L230.1 622.8L237.0 618.2L243.9 614.5L250.8 618.4L257.7 620.9L264.5 621.9L271.4 627.1L278.3 632.0L285.2 632.1L292.1 633.5L299.0 634.1L305.9 631.9L312.8 629.5L319.7 630.2L326.6 633.5L333.5 633.0L340.4 635.6L347.3 637.7L354.2 641.8L361.1 642.7L368.0 647.8L374.9 649.9L381.7 654.4L388.6 650.8L395.5 652.9L402.4 653.8L409.3 653.4L416.2 652.0L423.1 652.6L430.0 652.2L436.9 651.4L443.8 650.6L450.7 649.4L457.6 652.7L464.5 652.2L471.4 651.6L478.3 653.0L485.2 654.5L492.0 654.5L498.9 655.0L505.8 657.1L512.7 657.7L519.6 658.8L526.5 660.6L533.4 658.5L540.3 656.3L547.2 654.2L554.1 652.4L561.0 651.8L567.9 656.6L574.8 656.3L581.7 655.1L588.6 650.3L595.5 645.1L602.3 640.3L609.2 641.3L616.1 641.3L623.0 645.4L629.9 644.2L636.8 644.2L643.7 644.2L650.6 646.9L657.5 650.3L664.4 654.2L671.3 659.3L678.2 662.6L685.1 664.6L692.0 665.5L698.9 665.5L705.8 664.6L712.7 662.9L719.5 662.0L726.4 661.7L733.3 664.1L740.2 665.6L747.1 665.6L754.0 665.9L760.9 666.6L767.8 667.8L774.7 666.8L781.6 668.8L788.5 669.9L795.4 668.1L802.3 667.6L809.2 664.4L816.1 664.1L823.0 664.5L829.8 665.4L836.7 665.6L843.6 669.8L850.5 668.9L857.4 666.9L864.3 665.3L871.2 659.3L878.1 653.7L885.0 651.9L891.9 650.7L898.8 649.8L905.7 653.2L912.6 653.6L919.5 652.3L926.4 650.7L933.3 647.4L940.2 644.5L947.0 643.3L953.9 641.3L960.8 635.1L967.7 634.5L974.6 630.0L981.5 626.7L988.4 625.8L995.3 631.1L1002.2 631.4L1009.1 633.9L1016.0 638.9L1022.9 641.5L1029.8 641.8L1036.7 644.1L1043.6 646.2L1050.5 645.3L1057.3 644.5L1064.2 646.9L1071.1 650.3L1078.0 655.1L1084.9 659.9L1091.8 663.0L1098.7 661.8L1105.6 657.9L1112.5 653.1L1119.4 650.1L1126.3 650.4L1133.2 651.1L1140.1 653.2L1147.0 656.3L1153.9 657.5L1160.8 657.2L1167.6 657.9L1174.5 653.9L1181.4 648.7L1188.3 646.5L1195.2 645.9L1202.1 646.1L1209.0 650.4L1215.9 655.8L1222.8 657.7L1229.7 658.9L1236.6 658.6L1243.5 658.9L1250.4 660.1L1257.3 662.4L1264.2 663.3L1271.1 664.5L1278.0 666.5L1284.8 665.0L1291.7 662.3L1298.6 662.3L1305.5 660.2L1312.4 659.0L1319.3 660.8L1326.2 663.1L1333.1 664.1L1340.0 667.7L1346.9 669.2L1353.8 669.2L1360.7 669.9L1367.6 667.8L1374.5 665.1L1381.4 661.7L1388.3 658.4L1395.1 653.8L1402.0 651.4L1408.9 649.0L1415.8 644.8L1422.7 639.4L1429.6 635.0L1436.5 631.4L1443.4 629.0" fill="none" stroke="#f0f0f0" stroke-width="1.25" stroke-linejoin="round"/>
<path d="M2.6 667.4L9.5 662.3L16.4 659.8L23.3 655.6L30.2 650.5L37.0 647.9L43.9 639.5L50.8 631.0L57.7 628.0L64.6 624.2L71.5 622.1L78.4 618.0L85.3 614.9L92.2 608.5L99.1 603.9L106.0 598.0L112.9 597.9L119.8 596.2L126.7 593.6L133.6 592.0L140.5 591.7L147.4 595.3L154.2 598.9L161.1 604.0L168.0 607.8L174.9 613.5L181.8 617.2L188.7 622.9L195.6 628.2L202.5 630.7L209.4 630.9L216.3 628.8L223.2 626.1L230.1 625.4L237.0 625.6L243.9 624.1L250.8 624.4L257.7 623.5L264.5 622.4L271.4 622.6L278.3 623.2L285.2 625.3L292.1 627.2L299.0 628.0L305.9 629.5L312.8 630.7L319.7 631.2L326.6 633.5L333.5 633.5L340.4 633.7L347.3 633.6L354.2 636.0L361.1 638.1L368.0 640.4L374.9 642.7L381.7 646.0L388.6 646.3L395.5 647.8L402.4 650.8L409.3 651.7L416.2 653.2L423.1 651.7L430.0 652.6L436.9 652.6L443.8 652.0L450.7 650.7L457.6 652.6L464.5 652.2L471.4 651.5L478.3 651.8L485.2 652.0L492.0 653.6L498.9 653.6L505.8 654.3L512.7 655.3L519.6 656.7L526.5 657.5L533.4 656.7L540.3 656.7L547.2 655.9L554.1 655.6L561.0 656.2L567.9 657.5L574.8 656.3L581.7 654.6L588.6 651.3L595.5 648.5L602.3 648.5L609.2 648.8L616.1 648.2L623.0 647.9L629.9 644.7L636.8 642.3L643.7 642.8L650.6 644.1L657.5 647.9L664.4 649.2L671.3 651.8L678.2 653.4L685.1 655.8L692.0 657.9L698.9 659.9L705.8 662.0L712.7 662.7L719.5 663.3L726.4 663.6L733.3 664.8L740.2 665.1L747.1 664.2L754.0 664.0L760.9 664.1L767.8 665.9L774.7 666.2L781.6 667.2L788.5 667.9L795.4 667.3L802.3 667.7L809.2 665.6L816.1 666.5L823.0 667.2L829.8 666.8L836.7 666.6L843.6 667.1L850.5 666.5L857.4 665.7L864.3 665.4L871.2 662.5L878.1 661.7L885.0 660.4L891.9 658.8L898.8 657.5L905.7 656.3L912.6 653.6L919.5 652.1L926.4 650.7L933.3 648.6L940.2 648.9L947.0 648.4L953.9 646.8L960.8 642.9L967.7 640.9L974.6 637.2L981.5 635.0L988.4 633.5L995.3 633.1L1002.2 632.9L1009.1 631.9L1016.0 632.8L1022.9 633.6L1029.8 636.4L1036.7 637.8L1043.6 640.0L1050.5 642.1L1057.3 643.0L1064.2 644.3L1071.1 647.2L1078.0 650.6L1084.9 652.6L1091.8 653.7L1098.7 654.4L1105.6 654.1L1112.5 654.1L1119.4 655.0L1126.3 656.7L1133.2 656.4L1140.1 655.5L1147.0 654.7L1153.9 653.8L1160.8 653.8L1167.6 654.5L1174.5 653.5L1181.4 652.5L1188.3 652.0L1195.2 651.6L1202.1 652.0L1209.0 652.1L1215.9 652.2L1222.8 652.1L1229.7 652.4L1236.6 652.4L1243.5 654.6L1250.4 657.9L1257.3 660.1L1264.2 661.1L1271.1 661.5L1278.0 662.7L1284.8 662.5L1291.7 662.4L1298.6 662.8L1305.5 662.3L1312.4 662.8L1319.3 662.9L1326.2 662.7L1333.1 663.2L1340.0 664.0L1346.9 664.1L1353.8 665.0L1360.7 666.5L1367.6 665.9L1374.5 666.4L1381.4 665.5L1388.3 663.8L1395.1 661.9L1402.0 659.6L1408.9 657.0L1415.8 653.3L1422.7 648.9L1429.6 644.4L1436.5 641.4L1443.4 639.0" fill="none" stroke="#f0f000" stroke-width="1.25" stroke-linejoin="round"/>
<path d="M2.6 791.9L9.5 786.0L16.4 782.4L23.3 779.2L30.2 779.2L37.0 777.9L43.9 777.0L50.8 777.0L57.7 778.1L64.6 779.7L71.5 779.7L78.4 779.2L85.3 777.9L92.2 776.5L99.1 775.1L106.0 777.9L112.9 777.0L119.8 776.5L126.7 778.3L133.6 786.5L140.5 796.8L147.4 804.2L154.2 809.4L161.1 814.6L168.0 818.1L174.9 821.1L181.8 825.0L188.7 832.2L195.6 838.3L202.5 844.3L209.4 842.2L216.3 833.2L223.2 823.2L230.1 812.8L237.0 803.3L243.9 798.6L250.8 796.3L257.7 796.5L264.5 800.9L271.4 809.9L278.3 821.4L285.2 827.9L292.1 829.8L299.0 830.6L305.9 827.8L312.8 824.7L319.7 823.3L326.6 817.6L333.5 817.4L340.4 821.4L347.3 828.9L354.2 835.9L361.1 843.2L368.0 848.7L374.9 853.6L381.7 858.1L388.6 858.9L395.5 859.1L402.4 859.3L409.3 856.6L416.2 849.0L423.1 846.2L430.0 845.8L436.9 842.8L443.8 839.9L450.7 842.6L457.6 846.8L464.5 845.4L471.4 839.7L478.3 833.6L485.2 827.1L492.0 821.4L498.9 819.3L505.8 821.4L512.7 826.2L519.6 833.5L526.5 838.7L533.4 835.4L540.3 829.6L547.2 822.4L554.1 819.2L561.0 819.2L567.9 818.6L574.8 816.9L581.7 811.5L588.6 805.2L595.5 800.5L602.3 799.1L609.2 798.6L616.1 795.9L623.0 794.2L629.9 790.1L636.8 785.8L643.7 785.4L650.6 788.3L657.5 790.4L664.4 798.2L671.3 807.0L678.2 816.4L685.1 824.3L692.0 830.1L698.9 829.2L705.8 824.2L712.7 817.7L719.5 816.1L726.4 813.7L733.3 816.1L740.2 816.9L747.1 813.3L754.0 806.6L760.9 800.4L767.8 794.1L774.7 790.2L781.6 789.1L788.5 788.9L795.4 792.3L802.3 803.2L809.2 813.2L816.1 822.4L823.0 827.7L829.8 832.5L836.7 831.9L843.6 830.9L850.5 827.4L857.4 820.3L864.3 812.7L871.2 804.0L878.1 797.6L885.0 793.1L891.9 789.6L898.8 786.9L905.7 786.1L912.6 785.1L919.5 785.3L926.4 788.3L933.3 794.5L940.2 794.6L947.0 791.6L953.9 787.3L960.8 784.9L967.7 783.6L974.6 780.9L981.5 778.9L988.4 779.3L995.3 780.4L1002.2 782.1L1009.1 789.3L1016.0 800.5L1022.9 807.1L1029.8 811.1L1036.7 817.5L1043.6 822.0L1050.5 829.4L1057.3 838.0L1064.2 843.0L1071.1 848.6L1078.0 853.9L1084.9 856.6L1091.8 852.3L1098.7 845.5L1105.6 835.1L1112.5 826.9L1119.4 821.2L1126.3 817.1L1133.2 815.3L1140.1 815.3L1147.0 814.4L1153.9 816.7L1160.8 819.4L1167.6 814.8L1174.5 807.3L1181.4 802.4L1188.3 799.5L1195.2 800.2L1202.1 800.1L1209.0 797.5L1215.9 793.3L1222.8 791.5L1229.7 789.6L1236.6 789.4L1243.5 797.2L1250.4 806.6L1257.3 814.1L1264.2 818.2L1271.1 823.1L1278.0 826.8L1284.8 821.8L1291.7 816.7L1298.6 812.9L1305.5 814.9L1312.4 821.4L1319.3 827.0L1326.2 832.0L1333.1 836.3L1340.0 840.5L1346.9 843.6L1353.8 844.8L1360.7 845.3L1367.6 837.2L1374.5 825.5L1381.4 815.5L1388.3 805.4L1395.1 798.7L1402.0 794.0L1408.9 788.8L1415.8 783.9L1422.7 780.2L1429.6 778.8L1436.5 778.8L1443.4 781.9" fill="none" stroke="#f0f000" stroke-width="1.15" stroke-linejoin="round"/>
<path d="M2.6 779.7L9.5 775.1L16.4 774.7L23.3 774.7L30.2 780.1L37.0 774.7L43.9 771.8L50.8 776.0L57.7 781.9L64.6 784.2L71.5 781.0L78.4 778.3L85.3 775.1L92.2 772.0L99.1 773.8L106.0 782.4L112.9 777.0L119.8 775.6L126.7 781.9L133.6 802.8L140.5 817.5L147.4 819.1L154.2 819.8L161.1 825.0L168.0 824.9L174.9 827.1L181.8 833.0L188.7 846.6L195.6 850.5L202.5 856.4L209.4 838.0L216.3 815.1L223.2 803.1L230.1 791.9L237.0 784.5L243.9 789.0L250.8 791.7L257.7 797.1L264.5 809.6L271.4 828.0L278.3 844.4L285.2 840.8L292.1 833.7L299.0 832.3L305.9 822.0L312.8 818.7L319.7 820.3L326.6 806.4L333.5 816.9L340.4 829.3L347.3 843.9L354.2 849.9L361.1 857.8L368.0 859.8L374.9 863.3L381.7 867.2L388.6 860.6L395.5 859.4L402.4 859.7L409.3 851.2L416.2 833.8L423.1 840.7L430.0 844.8L436.9 836.9L443.8 834.0L450.7 847.9L457.6 855.4L464.5 842.6L471.4 828.3L478.3 821.5L485.2 814.1L492.0 810.0L498.9 815.1L505.8 825.5L512.7 835.9L519.6 848.0L526.5 849.2L533.4 828.8L540.3 817.8L547.2 808.1L554.1 812.8L561.0 819.3L567.9 817.4L574.8 813.6L581.7 800.5L588.6 792.6L595.5 791.0L602.3 796.2L609.2 797.5L616.1 790.5L623.0 790.7L629.9 782.0L636.8 777.3L643.7 784.6L650.6 794.0L657.5 794.6L664.4 813.8L671.3 824.5L678.2 835.1L685.1 840.2L692.0 841.6L698.9 827.4L705.8 814.3L712.7 804.6L719.5 812.8L726.4 808.9L733.3 821.0L740.2 818.5L747.1 806.2L754.0 793.2L760.9 787.9L767.8 781.5L774.7 782.5L781.6 786.8L788.5 788.6L795.4 799.0L802.3 825.1L809.2 833.2L816.1 840.7L823.0 838.4L829.8 842.1L836.7 830.7L843.6 828.9L850.5 820.4L857.4 806.0L864.3 797.6L871.2 786.5L878.1 784.8L885.0 784.2L891.9 782.7L898.8 781.5L905.7 784.6L912.6 782.9L919.5 785.7L926.4 794.2L933.3 807.1L940.2 794.8L947.0 785.6L953.9 778.6L960.8 780.2L967.7 781.0L974.6 775.5L981.5 774.8L988.4 780.3L995.3 782.4L1002.2 785.5L1009.1 803.7L1016.0 822.8L1022.9 820.3L1029.8 819.1L1036.7 830.3L1043.6 831.1L1050.5 844.2L1057.3 855.2L1064.2 853.0L1071.1 859.7L1078.0 864.7L1084.9 861.8L1091.8 843.9L1098.7 831.7L1105.6 814.4L1112.5 810.4L1119.4 809.8L1126.3 808.9L1133.2 811.6L1140.1 815.2L1147.0 812.7L1153.9 821.2L1160.8 824.8L1167.6 805.6L1174.5 792.4L1181.4 792.6L1188.3 793.8L1195.2 801.4L1202.1 800.1L1209.0 792.1L1215.9 785.0L1222.8 788.0L1229.7 785.7L1236.6 788.9L1243.5 812.8L1250.4 825.5L1257.3 829.1L1264.2 826.3L1271.1 833.1L1278.0 834.2L1284.8 811.9L1291.7 806.3L1298.6 805.3L1305.5 818.9L1312.4 834.6L1319.3 838.1L1326.2 842.0L1333.1 845.0L1340.0 848.9L1346.9 849.7L1353.8 847.2L1360.7 846.3L1367.6 821.0L1374.5 802.2L1381.4 795.6L1388.3 785.2L1395.1 785.4L1402.0 784.6L1408.9 778.5L1415.8 774.0L1422.7 772.7L1429.6 776.0L1436.5 778.9L1443.4 788.1" fill="none" stroke="#f0f0f0" stroke-width="1.15" stroke-linejoin="round"/>
<path d="M2.6 756.1L9.5 752.7L16.4 761.1L23.3 764.7L30.2 781.0L37.0 769.2L43.9 762.9L50.8 774.2L57.7 787.8L64.6 793.3L71.5 780.6L78.4 779.0L85.3 766.5L92.2 762.7L99.1 771.5L106.0 791.5L112.9 775.6L119.8 771.5L126.7 792.8L133.6 835.6L140.5 858.8L147.4 848.8L154.2 840.5L161.1 845.9L168.0 838.6L174.9 839.1L181.8 848.9L188.7 875.3L195.6 874.8L202.5 880.7L209.4 829.5L216.3 779.0L223.2 763.0L230.1 750.3L237.0 746.8L243.9 769.9L250.8 782.7L257.7 798.1L264.5 827.0L271.4 864.2L278.3 890.4L285.2 866.5L292.1 841.5L299.0 835.6L305.9 810.6L312.8 806.6L319.7 814.4L326.6 783.9L333.5 815.9L340.4 845.2L347.3 873.9L354.2 878.1L361.1 887.0L368.0 881.9L374.9 882.8L381.7 885.4L388.6 863.8L395.5 860.0L402.4 860.5L409.3 840.4L416.2 803.3L423.1 829.8L430.0 842.9L436.9 825.1L443.8 822.3L450.7 858.7L457.6 872.5L464.5 837.0L471.4 805.4L478.3 797.1L485.2 788.0L492.0 787.2L498.9 806.6L505.8 833.7L512.7 855.3L519.6 877.2L526.5 870.2L533.4 815.6L540.3 794.4L547.2 779.5L554.1 800.1L561.0 819.3L567.9 814.8L574.8 806.9L581.7 778.7L588.6 767.5L595.5 772.2L602.3 790.6L609.2 795.5L616.1 779.7L623.0 783.9L629.9 765.8L636.8 760.2L643.7 783.0L650.6 805.4L657.5 803.0L664.4 845.1L671.3 859.7L678.2 872.6L685.1 871.9L692.0 864.8L698.9 823.8L705.8 794.4L712.7 778.5L719.5 806.3L726.4 799.3L733.3 830.8L740.2 821.6L747.1 791.9L754.0 766.3L760.9 763.1L767.8 756.3L774.7 767.0L781.6 782.3L788.5 788.0L795.4 812.5L802.3 868.8L809.2 873.1L816.1 877.4L823.0 859.7L829.8 861.2L836.7 828.4L843.6 824.9L850.5 806.3L857.4 777.4L864.3 767.3L871.2 751.7L878.1 759.3L885.0 766.3L891.9 768.9L898.8 770.5L905.7 781.5L912.6 778.5L919.5 786.7L926.4 806.1L933.3 832.2L940.2 795.0L947.0 773.7L953.9 761.2L960.8 770.8L967.7 775.8L974.6 764.7L981.5 766.6L988.4 782.2L995.3 786.5L1002.2 792.3L1009.1 832.6L1016.0 867.4L1022.9 846.7L1029.8 835.2L1036.7 855.8L1043.6 849.2L1050.5 873.7L1057.3 889.5L1064.2 872.9L1071.1 882.1L1078.0 886.2L1084.9 872.4L1091.8 826.9L1098.7 804.2L1105.6 773.1L1112.5 777.5L1119.4 787.0L1126.3 792.4L1133.2 804.4L1140.1 815.2L1147.0 809.3L1153.9 830.2L1160.8 835.7L1167.6 787.1L1174.5 762.7L1181.4 772.8L1188.3 782.4L1195.2 803.8L1202.1 800.1L1209.0 781.4L1215.9 768.4L1222.8 780.9L1229.7 777.8L1236.6 788.1L1243.5 844.0L1250.4 863.3L1257.3 859.0L1264.2 842.6L1271.1 852.9L1278.0 848.8L1284.8 792.0L1291.7 785.6L1298.6 790.2L1305.5 826.9L1312.4 860.9L1319.3 860.2L1326.2 862.1L1333.1 862.4L1340.0 865.7L1346.9 861.9L1353.8 852.1L1360.7 848.2L1367.6 788.7L1374.5 755.5L1381.4 755.7L1388.3 744.8L1395.1 758.6L1402.0 765.7L1408.9 757.7L1415.8 754.3L1422.7 757.8L1429.6 770.4L1436.5 779.0L1443.4 800.4" fill="none" stroke="#ff00ff" stroke-width="1.15" stroke-linejoin="round"/>
<rect x="0" y="538.5" width="1487" height="2" fill="#a00000"/>
<rect x="0" y="714.2" width="1487" height="2" fill="#700000"/>
<rect x="1467.5" y="12" width="1.8" height="874" fill="#900000"/>
<g stroke="#900000" stroke-width="1.3">
<path d="M1468.4 51.7h8.5"/>
<path d="M1468.4 77.6h4.5"/>
<path d="M1468.4 102.8h8.5"/>
<path d="M1468.4 128.7h4.5"/>
<path d="M1468.4 155.3h8.5"/>
<path d="M1468.4 181.20000000000002h4.5"/>
<path d="M1468.4 206.4h8.5"/>
<path d="M1468.4 232.3h4.5"/>
<path d="M1468.4 258.9h8.5"/>
<path d="M1468.4 284.79999999999995h4.5"/>
<path d="M1468.4 310.1h8.5"/>
<path d="M1468.4 336.0h4.5"/>
<path d="M1468.4 362.4h8.5"/>
<path d="M1468.4 388.29999999999995h4.5"/>
<path d="M1468.4 414.9h8.5"/>
<path d="M1468.4 440.79999999999995h4.5"/>
<path d="M1468.4 465.8h8.5"/>
<path d="M1468.4 491.7h4.5"/>
<path d="M1468.4 518.2h8.5"/>
<path d="M1468.4 590.5h8.5"/>
<path d="M1468.4 630.9h8.5"/>
<path d="M1468.4 671.5h8.5"/>
<path d="M1468.4 611.4h4.5"/>
<path d="M1468.4 652h4.5"/>
</g>
<g fill="#ffffff" stroke="#000" stroke-width="0.25" font-family="'Liberation Sans',sans-serif" font-size="18">
<text x="21.6" y="520.6" textLength="68.4">1355.78</text>
<text x="1319.6" y="57.3" textLength="68.4">1807.95</text>
<text x="25.7" y="558.2" textLength="79">VOLUME:</text>
<text x="108.9" y="558.2" textLength="108.7">95294232.00</text>
<text x="225.2" y="558.2" textLength="39.8">MA5:</text>
<text x="268.2" y="558.2" textLength="120.5">101204200.00</text>
<text x="396.6" y="558.2" textLength="50.8" fill="#ffff00">MA10:</text>
<text x="450.7" y="558.2" textLength="109.1" fill="#ffff00">89097720.00</text>
<text x="25.6" y="734.4" textLength="86">KDJ(9,3,3)</text>
<text x="120.5" y="734.4" textLength="17">K:</text>
<text x="142.8" y="734.4" textLength="45.4">79.15</text>
<text x="195.7" y="734.4" textLength="18" fill="#ffff00">D:</text>
<text x="218.3" y="734.4" textLength="46" fill="#ffff00">84.75</text>
<text x="271.2" y="734.4" textLength="14" fill="#ff00ff">J:</text>
<text x="290.6" y="734.4" textLength="45.4" fill="#ff00ff">67.95</text>
</g>
<g stroke="#e4e4e4" stroke-width="1.2" fill="none"><path d="M3 512.3H20"/><path d="M8.2 509.2L3 512.3L8.2 515.4"/><rect x="2.2" y="511" width="2.6" height="2.6" fill="#e4e4e4" stroke="none"/>
<path d="M1391 49.2L1420.5 43.6"/><path d="M1414 40.8L1421 43.5L1415.8 48.6"/></g>
<circle cx="223.9" cy="25.8" r="9" fill="#7a7a7a"/><path d="M219.5 23.8l4.4 4.2l4.4 -4.2" fill="none" stroke="#2a2a2a" stroke-width="1.4"/>
<circle cx="11.1" cy="551.7" r="9" fill="#7a7a7a"/><path d="M6.699999999999999 549.7l4.4 4.2l4.4 -4.2" fill="none" stroke="#2a2a2a" stroke-width="1.4"/>
<circle cx="10.6" cy="727.3" r="9" fill="#7a7a7a"/><path d="M6.199999999999999 725.3l4.4 4.2l4.4 -4.2" fill="none" stroke="#2a2a2a" stroke-width="1.4"/>
<path d="M198.8 16.3h2.4l6.65 7.9h-4.8v8.8h-6.1v-8.8h-4.8z" fill="#ff0000"/>
<path d="M1426 18l7.8 8.2l-7.8 8.2l-7.8 -8.2z" fill="none" stroke="#5e5e5e" stroke-width="1.2"/>
<rect x="1446.5" y="19" width="15.5" height="14" rx="2.5" fill="none" stroke="#808080" stroke-width="1.5"/><rect x="1455.5" y="21.5" width="4" height="9" fill="#909090"/>
<path d="M0 450.7L13.3 469.3V514.5L0 533.7z" fill="#ffffff" fill-opacity="0.22" stroke="#ffffff" stroke-opacity="0.16" stroke-width="1.2"/>
<path d="M0 483.2L7.3 489.9L0 496.6z" fill="#d89000"/>
<rect x="1485.3" y="586.3" width="1.7" height="2.6" fill="#a00000"/><rect x="1485.3" y="626.8" width="1.7" height="2.6" fill="#a00000"/>
<path d="M1468.4 692.4H1487" stroke="#900000" stroke-width="1.3"/>
<g stroke="#000" stroke-width="0.4" font-family="'Liberation Sans',sans-serif" font-size="18"><text x="1471.6" y="709.8" fill="#a80000">X1</text><text x="1479.2" y="771.3" fill="#b80000">100</text></g>
<rect x="1467.4" y="715" width="3.3" height="171" fill="#8c0000"/><rect x="1468.4" y="713.8" width="20" height="3.5" fill="#8c0000"/>
<text x="2.85" y="33" fill="#f2f2f2" font-size="18.5" textLength="180" font-family="'Liberation Sans','Noto Sans CJK SC',sans-serif">创业板指(日线.前复权)</text>
<rect x="0" y="0" width="1487" height="8.2" fill="url(#tb0)"/>
<rect x="0" y="8" width="1487" height="4.4" fill="url(#tb)"/>
<rect x="0" y="0" width="24.5" height="2.6" fill="#fff"/><rect x="7" y="0" width="5" height="1.2" fill="#f4b0b0"/>
<g stroke="#000" stroke-width="2.4" stroke-opacity="0.95" stroke-dasharray="2.2 2 3 1.6 1.6 2.6 2.4 1.8 2.8 1.4">
<path d="M38.9 0.8H74.4"/>
<path d="M107.9 0.8H138.6"/>
<path d="M169 0.8H202"/>
<path d="M234 0.8H262"/>
<path d="M292 0.8H358"/>
<path d="M383 0.8H416"/>
<path d="M449 0.8H479"/>
<path d="M514 0.8H545"/>
<path d="M996 0.8H1197"/>
</g>
<rect x="577.8" y="0" width="57.2" height="8.6" fill="#e6e6e6"/><rect x="577.1999999999999" y="0" width="1.2" height="8.6" fill="#fafafa"/><rect x="634.4" y="0" width="1.2" height="8.6" fill="#b4b4b4"/>
<rect x="644.8" y="0" width="58.0" height="8.6" fill="#e6e6e6"/><rect x="644.1999999999999" y="0" width="1.2" height="8.6" fill="#fafafa"/><rect x="702.2" y="0" width="1.2" height="8.6" fill="#b4b4b4"/>
<g stroke="#ff1010" stroke-width="1.8" stroke-opacity="0.9" stroke-dasharray="1.5 2 3 1.4 1 2.4 2 1.7"><path d="M588.3 0.7H625"/><path d="M654.7 0.7H691.4"/></g>
</svg>
</body></html>
